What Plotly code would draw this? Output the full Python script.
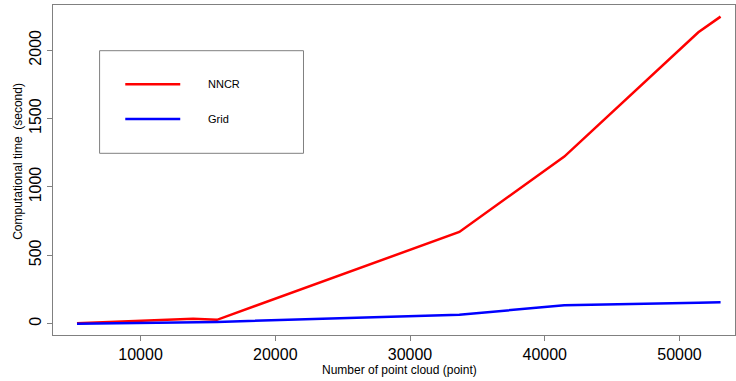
import plotly.graph_objects as go

# Data
points = [5280, 13900, 15670, 33660, 41450, 51400, 53050]
nncr_time = [3, 35, 28, 671, 1222, 2131, 2246]
grid_time = [0, 8, 13, 66, 134, 152, 156]
x_ticks = [10000, 20000, 30000, 40000, 50000]
y_ticks = [0, 500, 1000, 1500, 2000]
series_names = ["NNCR", "Grid"]

FONT = "Liberation Sans, Arial, sans-serif"
W, H = 736, 381
L, R, T, B = 52.7, 735.0, 5.0, 335.0

fig = go.Figure()
fig.add_trace(go.Scatter(x=points, y=nncr_time, mode="lines", name=series_names[0],
                         line=dict(color="#FF0000", width=2.5), showlegend=False))
fig.add_trace(go.Scatter(x=points, y=grid_time, mode="lines", name=series_names[1],
                         line=dict(color="#0000FF", width=2.5), showlegend=False))

axis_common = dict(showgrid=False, zeroline=False, showline=True, mirror=True,
                   linecolor="#808080", linewidth=1, ticks="outside", ticklen=5,
                   tickcolor="#808080", tickfont=dict(family=FONT, size=16, color="#000"))

fig.update_xaxes(range=[3500, 54120], tickvals=x_ticks, ticktext=[str(v) for v in x_ticks],
                 **axis_common)
fig.update_yaxes(range=[-83, 2331], tickvals=y_ticks, ticktext=[str(v) for v in y_ticks],
                 tickangle=-90, **axis_common)

def px_x(px):
    return (px - L) / (R - L)

def px_y(py):
    return (B - py) / (B - T)

shapes = [
    dict(type="rect", xref="paper", yref="paper", x0=px_x(99.3), x1=px_x(303.3),
         y0=px_y(153.3), y1=px_y(50.7), line=dict(color="#808080", width=1),
         fillcolor="rgba(0,0,0,0)"),
    dict(type="line", xref="paper", yref="paper", x0=px_x(125), x1=px_x(180),
         y0=px_y(84.3), y1=px_y(84.3), line=dict(color="#FF0000", width=2.5)),
    dict(type="line", xref="paper", yref="paper", x0=px_x(125), x1=px_x(180),
         y0=px_y(119), y1=px_y(119), line=dict(color="#0000FF", width=2.5)),
]

annotations = [
    dict(text=series_names[0], xref="paper", yref="paper", x=px_x(205.7), y=px_y(84.3),
         xanchor="left", yanchor="middle", showarrow=False,
         font=dict(family=FONT, size=11, color="#000")),
    dict(text=series_names[1], xref="paper", yref="paper", x=px_x(205.7), y=px_y(119),
         xanchor="left", yanchor="middle", showarrow=False,
         font=dict(family=FONT, size=11, color="#000")),
    dict(text="Number of point cloud (point)", xref="paper", yref="paper",
         x=px_x(399), y=px_y(370), xanchor="center", yanchor="middle", showarrow=False,
         font=dict(family=FONT, size=12, color="#000")),
    dict(text="Computational time  (second)", xref="paper", yref="paper",
         x=px_x(17), y=px_y(161.5), xanchor="center", yanchor="middle", showarrow=False,
         textangle=-90, font=dict(family=FONT, size=12, color="#000")),
]

fig.update_layout(
    width=W, height=H,
    margin=dict(l=L, r=W - R, t=T, b=H - B, pad=0),
    plot_bgcolor="white", paper_bgcolor="white",
    shapes=shapes, annotations=annotations,
    showlegend=False, hovermode=False,
)

fig.write_html("out.html", config={"displayModeBar": False, "staticPlot": True},
               post_script="document.body.style.margin='0';document.body.style.overflow='hidden';")
